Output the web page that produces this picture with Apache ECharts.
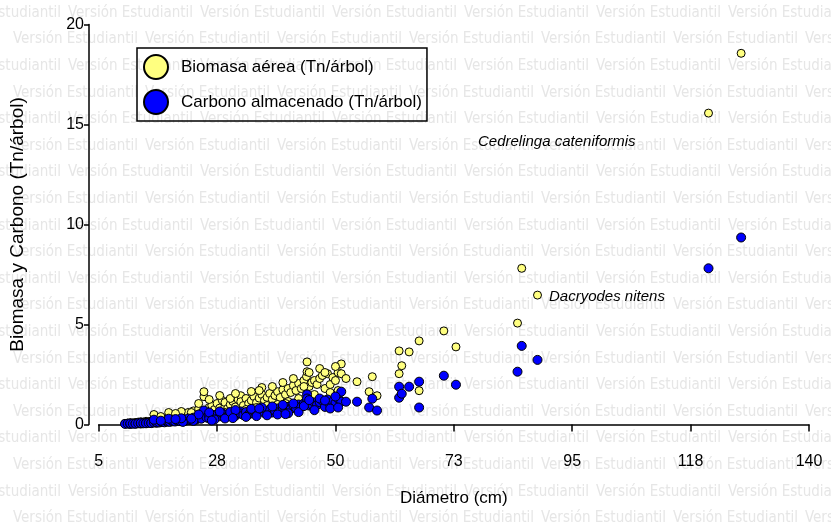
<!DOCTYPE html>
<html>
<head>
<meta charset="utf-8">
<script src="https://cdn.jsdelivr.net/npm/echarts@6/dist/echarts.min.js"></script>
<style>
  html, body { margin: 0; padding: 0; background: #fff; }
  #chart { width: 831px; height: 531px; }
</style>
</head>
<body>
<div id="chart"></div>
<script>
// one entry per tree: diameter (cm), aboveground biomass and stored carbon (Tn/tree)
const diametro = [
  10, 10.5, 11, 11, 11.5, 12, 12, 12.5, 13, 13, 13.5, 14, 14, 14.5, 15, 15,
  15.5, 16, 16, 16.5, 17, 17, 17.5, 18, 18, 18.5, 19, 19, 19.5, 20, 20, 20.5,
  21, 21, 21.5, 22, 22, 22.5, 23, 23, 23.5, 24, 24, 24.5, 25, 25, 25.5, 26,
  26, 26.5, 27, 27.5, 28, 28.5, 29, 29, 29.5, 30, 30.5, 31, 31.5, 32, 32,
  32.5, 33, 33.5, 34, 34.5, 35, 35.5, 36, 36.5, 37, 37.5, 38, 38.5, 39, 39.5,
  40, 40.5, 41, 41.5, 42, 42.5, 43, 43.5, 44, 44.5, 44.6, 44.6, 45, 45.5, 46,
  46.5, 47, 47.5, 48, 48.5, 49, 49.5, 50, 50.5, 51.1, 51.1, 54.1, 57.0, 56.4,
  57.9, 62.1, 62.1, 64.0, 62.6, 65.9, 65.9, 70.6, 72.9, 84.6, 85.4, 88.4,
  120.9, 127.1,
  21, 23, 24, 26, 27, 28, 29, 30, 31, 33, 34, 35, 36, 37, 38, 39, 40, 41,
  42, 43, 44, 45, 46, 47, 48, 49, 50, 50.5, 52, 26.5, 30.5, 35.5, 40.5,
  15.5, 18.3, 20.7, 22.6, 16.8, 19.6
];
const biomasa = [
  0.05, 0.07, 0.06, 0.09, 0.08, 0.10, 0.07, 0.12, 0.10, 0.14, 0.12, 0.16, 0.11, 0.15, 0.18, 0.13,
  0.20, 0.17, 0.22, 0.19, 0.24, 0.30, 0.21, 0.27, 0.35, 0.25, 0.32, 0.40, 0.29, 0.36, 0.45, 0.33,
  0.42, 0.52, 0.38, 0.48, 0.60, 0.44, 0.55, 0.68, 0.50, 0.62, 0.78, 0.57, 1.39, 1.64, 0.70, 0.85,
  0.60, 0.95, 0.75, 1.05, 0.82, 1.20, 0.90, 1.10, 0.80, 1.00, 1.15, 0.88, 1.25, 1.44, 1.14,
  0.95, 1.30, 1.05, 1.20, 1.40, 1.10, 1.32, 1.50, 1.20, 1.36, 1.55, 1.25, 1.45, 1.64, 1.35,
  1.74, 1.50, 1.80, 1.60, 1.95, 1.70, 2.05, 1.80, 2.20, 2.40, 3.13, 2.64, 1.90, 2.10, 2.20,
  2.00, 2.30, 2.45, 1.80, 2.54, 2.00, 2.35, 2.20, 2.60, 3.03, 2.54, 2.14, 2.39, 1.64,
  1.44, 3.68, 2.54, 3.63, 2.94, 4.18, 1.69, 4.68, 3.88, 5.07, 7.81, 6.47,
  15.57, 18.56,
  0.25, 0.35, 1.05, 1.25, 0.50, 1.45, 0.60, 1.30, 1.55, 0.75, 1.65, 0.85, 1.85, 0.95, 1.90, 1.00, 2.10, 1.15,
  2.30, 1.30, 1.90, 2.60, 1.50, 2.80, 2.60, 1.60, 2.90, 1.70, 2.30, 0.40, 0.65, 1.70, 1.05,
  0.50, 0.60, 0.65, 0.60, 0.40, 0.55
];
const carbono = [
  0.03, 0.04, 0.03, 0.05, 0.04, 0.05, 0.04, 0.06, 0.05, 0.07, 0.06, 0.08, 0.06, 0.08, 0.09, 0.07,
  0.10, 0.09, 0.11, 0.10, 0.12, 0.15, 0.11, 0.14, 0.18, 0.13, 0.16, 0.20, 0.15, 0.18, 0.23, 0.17,
  0.21, 0.26, 0.19, 0.24, 0.30, 0.22, 0.28, 0.34, 0.25, 0.31, 0.39, 0.29, 0.60, 0.70, 0.35, 0.43,
  0.30, 0.48, 0.38, 0.50, 0.41, 0.55, 0.45, 0.50, 0.40, 0.48, 0.55, 0.44, 0.60, 0.65, 0.55,
  0.47, 0.62, 0.50, 0.58, 0.67, 0.53, 0.64, 0.72, 0.58, 0.66, 0.75, 0.60, 0.70, 0.80, 0.65,
  0.85, 0.72, 0.88, 0.78, 0.95, 0.82, 1.00, 0.90, 1.05, 1.15, 1.50, 1.30, 0.95, 1.00, 1.10,
  0.98, 1.12, 1.20, 0.88, 1.25, 1.00, 1.15, 1.07, 1.30, 1.64, 1.14, 1.14, 1.29, 0.85,
  0.70, 1.89, 1.34, 1.89, 1.54, 2.14, 0.85, 2.44, 1.99, 2.64, 3.93, 3.23,
  7.81, 9.35,
  0.13, 0.18, 0.50, 0.60, 0.25, 0.65, 0.30, 0.62, 0.72, 0.38, 0.78, 0.42, 0.85, 0.46, 0.90, 0.50, 0.98, 0.56,
  1.05, 0.62, 0.92, 1.22, 0.72, 1.30, 1.20, 0.80, 1.40, 0.85, 1.14, 0.20, 0.32, 0.80, 0.52,
  0.24, 0.29, 0.31, 0.29, 0.19, 0.27
];

const xTicks = { min: 5, max: 140, step: 22.5 };
const yTicks = { min: 0, max: 20, step: 5 };

const serieBiomasa = "Biomasa aérea (Tn/árbol)";
const serieCarbono = "Carbono almacenado (Tn/árbol)";
const watermark = "Versión Estudiantil";

const chart = echarts.init(document.getElementById("chart"), null, { renderer: "canvas" });

// light grey "student version" stamp tiled over the page
const marca = [];
for (let row = 0; row < 20; row++) {
  const y = 13 + row * 26.6;
  const shift = row % 2 === 0 ? -64 : 13;
  for (let x = shift; x < 831; x += 132) {
    marca.push({
      type: "text",
      x: x,
      y: y,
      z: -10,
      silent: true,
      style: {
        text: watermark,
        fill: "#e6e6e6",
        font: '15px "Liberation Sans Narrow", "DejaVu Sans Condensed", sans-serif',
        textVerticalAlign: "middle",
      },
    });
  }
}

const axisFont = { fontFamily: "Liberation Sans, Arial, sans-serif", color: "#000" };

chart.setOption({
  animation: false,
  backgroundColor: "#fff",
  grid: { left: 97, right: 22, top: 24.5, bottom: 106.5 },
  legend: {
    orient: "vertical",
    left: 137,
    top: 48,
    padding: [6, 5, 6, 6],
    itemGap: 9,
    itemWidth: 24,
    itemHeight: 24,
    icon: "circle",
    borderColor: "#000",
    borderWidth: 1.5,
    textStyle: { ...axisFont, fontSize: 17, padding: [0, 0, 0, 8] },
    data: [serieBiomasa, serieCarbono],
  },
  xAxis: {
    type: "value",
    min: xTicks.min,
    max: xTicks.max,
    interval: xTicks.step,
    offset: 21.5,
    name: "Diámetro (cm)",
    nameLocation: "middle",
    nameGap: 44,
    nameTextStyle: { ...axisFont, fontSize: 17 },
    axisLine: { lineStyle: { color: "#000", width: 1.5 } },
    axisTick: { length: 7, lineStyle: { color: "#000", width: 1.5 } },
    axisLabel: {
      ...axisFont,
      fontSize: 16,
      margin: 8,
      formatter: (v) => String(Math.round(v)),
    },
    splitLine: { show: false },
  },
  yAxis: {
    type: "value",
    min: yTicks.min,
    max: yTicks.max,
    interval: yTicks.step,
    offset: 9.7,
    name: "Biomasa y Carbono (Tn/árbol)",
    nameLocation: "middle",
    nameGap: 62,
    nameTextStyle: { ...axisFont, fontSize: 19 },
    axisLine: { show: true, lineStyle: { color: "#000", width: 1.5 } },
    axisTick: { show: true, length: 5, lineStyle: { color: "#000", width: 1.5 } },
    axisLabel: { ...axisFont, fontSize: 16, margin: 5 },
    splitLine: { show: false },
  },
  series: [
    {
      name: serieBiomasa,
      type: "scatter",
      symbolSize: 8,
      itemStyle: { color: "#ffff80", borderColor: "#000", borderWidth: 1, opacity: 1 },
      data: diametro.map((d, i) => [d, biomasa[i]]),
    },
    {
      name: serieCarbono,
      type: "scatter",
      symbolSize: 9,
      itemStyle: { color: "#0000ff", borderColor: "#000", borderWidth: 1, opacity: 1 },
      data: diametro.map((d, i) => [d, carbono[i]]),
    },
  ],
  graphic: [
    ...marca,
    {
      type: "text",
      x: 478,
      y: 142,
      silent: true,
      style: {
        text: "Cedrelinga cateniformis",
        fill: "#000",
        font: 'italic 15px "Liberation Sans", Arial, sans-serif',
        textVerticalAlign: "middle",
      },
    },
    {
      type: "text",
      x: 549,
      y: 297,
      silent: true,
      style: {
        text: "Dacryodes nitens",
        fill: "#000",
        font: 'italic 15px "Liberation Sans", Arial, sans-serif',
        textVerticalAlign: "middle",
      },
    },
  ],
});
</script>
</body>
</html>
